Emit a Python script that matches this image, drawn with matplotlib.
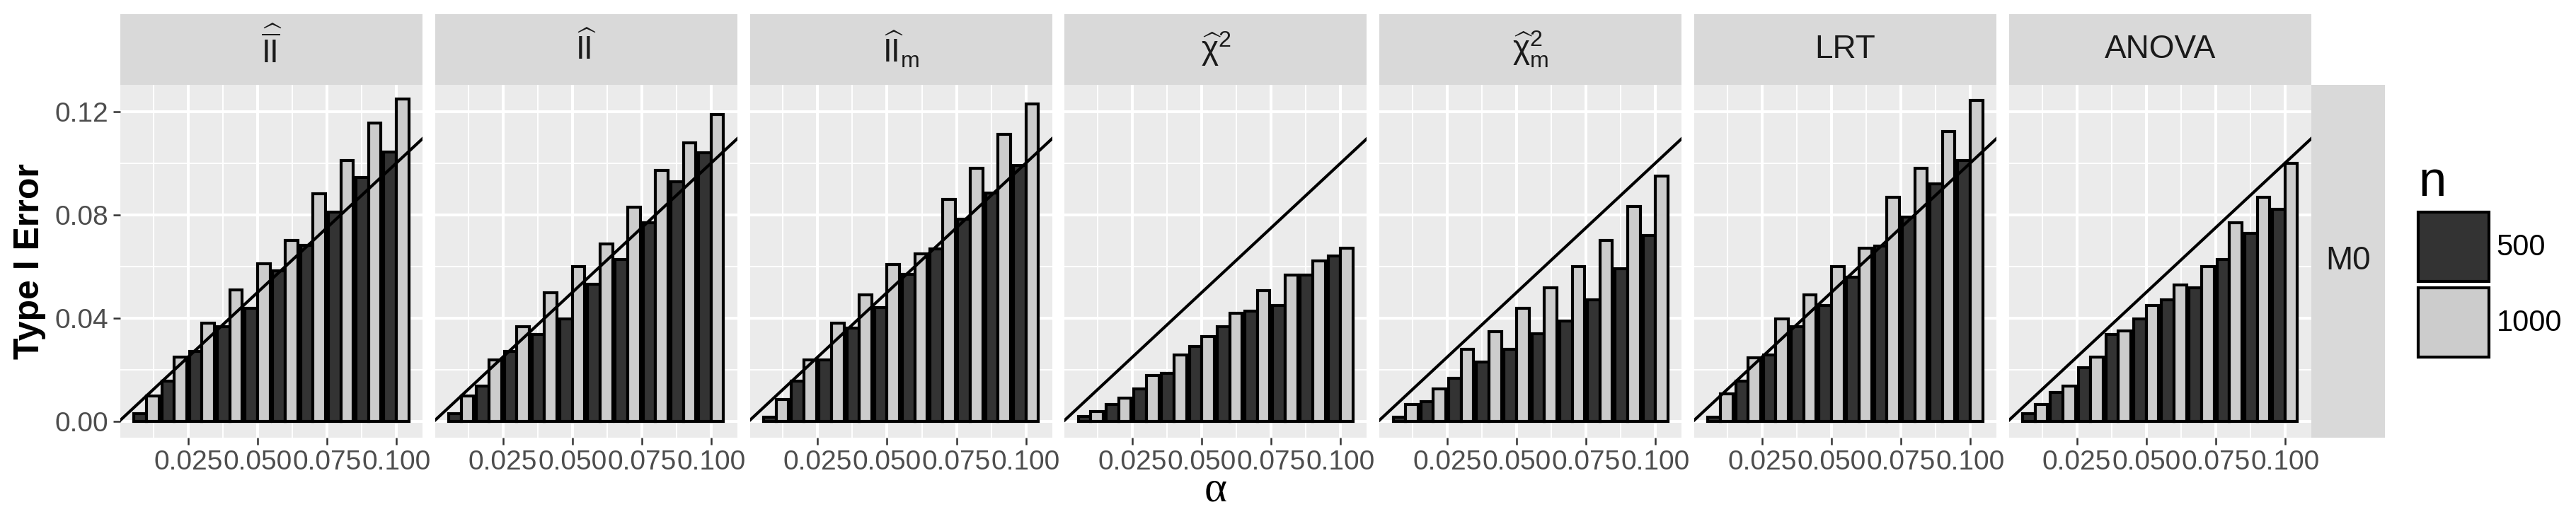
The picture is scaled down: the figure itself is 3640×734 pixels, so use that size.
import numpy as np
import matplotlib
matplotlib.use("Agg")
import matplotlib.pyplot as plt
from matplotlib.patches import Rectangle

plt.rcParams['font.family'] = ['Liberation Sans', 'DejaVu Sans']
plt.rcParams['mathtext.fontset'] = 'custom'
plt.rcParams['mathtext.rm'] = 'Liberation Sans'
plt.rcParams['mathtext.it'] = 'Liberation Sans:italic'
plt.rcParams['mathtext.bf'] = 'Liberation Sans:bold'

# significance levels and sample sizes
alpha = [0.01, 0.02, 0.03, 0.04, 0.05, 0.06, 0.07, 0.08, 0.09, 0.10]
n_levels = ['500', '1000']
methods = [r'$\widehat{\overline{\mathrm{II}}}$', r'$\widehat{\mathrm{II}}$',
           r'$\widehat{\mathrm{II}}_{\mathrm{m}}$', r'$\widehat{\mathrm{\chi}}^{2}$',
           r'$\widehat{\mathrm{\chi}}_{\mathrm{m}}^{2}$', 'LRT', 'ANOVA']
model = 'M0'

# type I error, n = 500 / n = 1000, per method
iibar_500 = [0.0031, 0.0157, 0.0272, 0.0366, 0.0439, 0.0583, 0.0683, 0.0811, 0.0944, 0.1042]
iibar_1000 = [0.0099, 0.0249, 0.0381, 0.0510, 0.0610, 0.0702, 0.0882, 0.1010, 0.1154, 0.1248]
ii_500 = [0.0031, 0.0137, 0.0272, 0.0338, 0.0397, 0.0531, 0.0628, 0.0769, 0.0928, 0.1041]
ii_1000 = [0.0099, 0.0240, 0.0368, 0.0499, 0.0599, 0.0688, 0.0829, 0.0971, 0.1079, 0.1188]
iim_500 = [0.0018, 0.0156, 0.0240, 0.0362, 0.0441, 0.0569, 0.0669, 0.0782, 0.0883, 0.0992]
iim_1000 = [0.0086, 0.0240, 0.0381, 0.0490, 0.0609, 0.0650, 0.0859, 0.0979, 0.1112, 0.1229]
chi_500 = [0.0019, 0.0067, 0.0128, 0.0187, 0.0291, 0.0368, 0.0428, 0.0449, 0.0567, 0.0642]
chi_1000 = [0.0038, 0.0090, 0.0180, 0.0259, 0.0330, 0.0419, 0.0508, 0.0567, 0.0621, 0.0670]
chim_500 = [0.0018, 0.0077, 0.0169, 0.0230, 0.0279, 0.0339, 0.0388, 0.0472, 0.0591, 0.0719]
chim_1000 = [0.0067, 0.0128, 0.0279, 0.0349, 0.0439, 0.0519, 0.0599, 0.0700, 0.0831, 0.0950]
lrt_500 = [0.0018, 0.0156, 0.0259, 0.0368, 0.0449, 0.0560, 0.0679, 0.0791, 0.0919, 0.1009]
lrt_1000 = [0.0108, 0.0246, 0.0397, 0.0490, 0.0599, 0.0672, 0.0868, 0.0979, 0.1121, 0.1242]
anova_500 = [0.0031, 0.0112, 0.0210, 0.0338, 0.0397, 0.0471, 0.0518, 0.0628, 0.0727, 0.0821]
anova_1000 = [0.0067, 0.0137, 0.0249, 0.0351, 0.0449, 0.0528, 0.0599, 0.0769, 0.0868, 0.1000]

rates_500 = [iibar_500, ii_500, iim_500, chi_500, chim_500, lrt_500, anova_500]
rates_1000 = [iibar_1000, ii_1000, iim_1000, chi_1000, chim_1000, lrt_1000, anova_1000]

W, H = 3640, 734
fig = plt.figure(figsize=(W / 100, H / 100), dpi=100)

fills = ['#333333', '#CCCCCC']
bw = 0.0045
x = np.array(alpha)
p_left, p_w, p_step = 170, 427, 444.8
p_top, p_bot = 119.5, 619
strip_h = 100

handles = []
for i, lab in enumerate(methods):
    ax = fig.add_axes([(p_left + i * p_step) / W, (H - p_bot) / H, p_w / W, (p_bot - p_top) / H])
    ax.set_facecolor('#EBEBEB')
    for s in ax.spines.values():
        s.set_visible(False)
    ax.set_xlim(0.00055, 0.10945)
    ax.set_ylim(-0.0062, 0.1304)
    ax.set_xticks([0.025, 0.05, 0.075, 0.1])
    ax.set_xticklabels(['0.025', '0.050', '0.075', '0.100'])
    ax.set_xticks([0.0125, 0.0375, 0.0625, 0.0875], minor=True)
    ax.set_yticks([0.0, 0.04, 0.08, 0.12])
    ax.set_yticks([0.02, 0.06, 0.10], minor=True)
    ax.grid(which='major', color='white', lw=2.9)
    ax.grid(which='minor', color='white', lw=1.4)
    ax.set_axisbelow(True)
    ax.tick_params(which='major', length=7, width=1.8, color='#333333',
                   labelsize=28, labelcolor='#4D4D4D', pad=5)
    ax.tick_params(which='minor', length=0)
    if i == 0:
        ax.set_yticklabels(['0.00', '0.04', '0.08', '0.12'])
    else:
        ax.tick_params(axis='y', which='both', length=0, labelleft=False)

    b1 = ax.bar(x - bw / 2, rates_500[i], width=bw, color=fills[0], edgecolor='black', lw=3.0, zorder=2)
    b2 = ax.bar(x + bw / 2, rates_1000[i], width=bw, color=fills[1], edgecolor='black', lw=3.0, zorder=2)
    ax.axline((0, 0), slope=1, color='black', lw=3.0, zorder=3)
    if i == 0:
        handles = [b1, b2]

    # facet strip on top
    ax.add_patch(Rectangle((0, 1), 1, strip_h / (p_bot - p_top), transform=ax.transAxes,
                           facecolor='#D9D9D9', edgecolor='none', clip_on=False))
    ax.text(0.5, 1 + strip_h / 2 / (p_bot - p_top), lab, transform=ax.transAxes,
            ha='center', va='center', fontsize=33, color='#1A1A1A')

# row strip on the right
rs_x = p_left + 6 * p_step + p_w
fig.patches.append(Rectangle((rs_x / W, (H - p_bot) / H), 104 / W, (p_bot - p_top) / H,
                             transform=fig.transFigure, facecolor='#D9D9D9', edgecolor='none'))
fig.text((rs_x + 52) / W, 1 - (p_top + p_bot) / 2 / H, model, ha='center', va='center',
         fontsize=33, color='#1A1A1A')

fig.text(42 / W, 1 - 369 / H, 'Type I Error', rotation=90, ha='center', va='center',
         fontsize=36, fontweight='bold')
fig.text(1718 / W, 1 - 694 / H, 'α', ha='center', va='center', fontsize=44,
         family='Liberation Serif')

leg = fig.legend(handles, n_levels, title='n', loc='upper left',
                 bbox_to_anchor=(3417 / W, 1 - 226 / H), frameon=False, fontsize=30,
                 title_fontsize=51, handlelength=2.4, handleheight=3.24, labelspacing=0.2,
                 handletextpad=0.25, borderpad=0, borderaxespad=0)
leg._legend_box.align = 'left'

fig.savefig('out.png', dpi=100, facecolor='white')
